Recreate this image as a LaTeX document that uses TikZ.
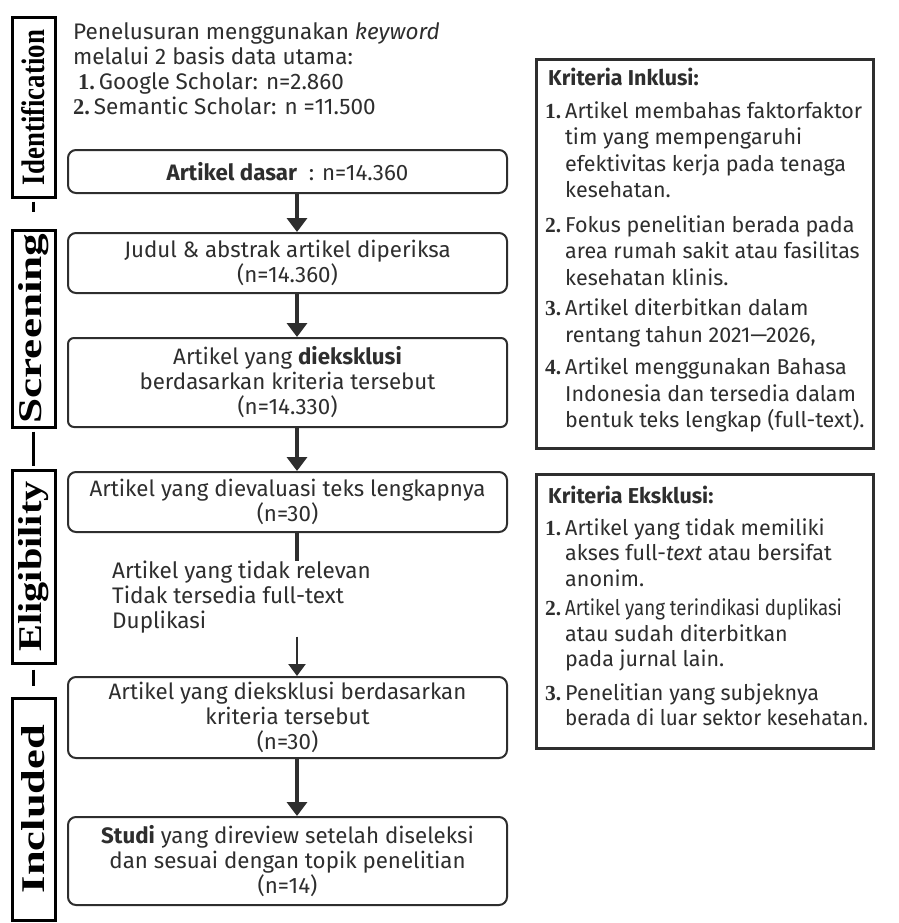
\documentclass[tikz,border=0pt]{standalone}
\usepackage{fontspec}
\usepackage{graphicx}
\setmainfont{Fira Sans}
\newfontfamily\numfont{Liberation Serif}
\usetikzlibrary{arrows.meta}
\definecolor{ink}{HTML}{2E2E2E}
\newcommand{\nr}[1]{{\numfont\bfseries #1}}
\newcommand{\itm}[1]{\makebox[20pt][l]{\nr{#1}}}
\newcommand{\ind}{\hspace*{20pt}}
\newcommand{\phaselabel}[2]{\rotatebox{90}{\resizebox{#1}{23pt}{\numfont\bfseries #2}}}

\begin{document}
\begin{tikzpicture}[x=1pt,y=-1pt,
  txt/.style={font=\fontsize{22.5}{25}\selectfont, text=ink, inner sep=0pt},
  crittxt/.style={font=\fontsize{21.5}{26.5}\selectfont, text=ink, inner sep=0pt, align=left, anchor=north west},
  flowbox/.style={draw=ink, line width=2pt, rounded corners=8pt, minimum width=439pt, align=center, font=\fontsize{22.3}{25}\selectfont, text=ink, inner sep=0pt},
  phasebox/.style={draw=black, line width=3pt, minimum width=43pt, inner sep=0pt},
  phaseline/.style={draw=black, line width=3pt},
  critbox/.style={draw=ink, line width=3pt, minimum width=337pt, inner sep=0pt, anchor=north west},
  flowarrow/.style={draw=ink, line width=3.5pt, -{Triangle[width=20pt,length=14pt]}},
  thinarrow/.style={draw=ink, line width=2.5pt, -{Triangle[width=17pt,length=12pt]}}]
\useasboundingbox (0,0) rectangle (898,923);
\fill[white] (0,0) rectangle (898,923);

\node[phasebox, minimum height=179pt] (ident) at (33.5,107.5) {\phaselabel{155pt}{Identification}};
\node[phasebox, minimum height=197pt] (screen) at (33.5,328.5) {\phaselabel{190pt}{Screening}};
\node[phasebox, minimum height=193pt] (elig) at (33.5,566.5) {\phaselabel{170pt}{Eligibility}};
\node[phasebox, minimum height=222pt] (incl) at (33.5,809) {\phaselabel{168pt}{Included}};
\draw[phaseline, shorten <=3pt, shorten >=17pt] (ident) -- (screen);
\draw[phaseline, shorten <=3pt, shorten >=3pt] (screen) -- (elig);
\draw[phaseline, shorten <=5pt, shorten >=11pt] (elig) -- (incl);

\node[txt, anchor=north west, align=left] (search) at (73,22) {Penelusuran menggunakan \textit{keyword}\\melalui 2 basis data utama:\\\hspace*{5pt}\nr{1.}\,Google Scholar: n=2.860\\\nr{2.}\,Semantic Scholar: n =11.500};

\coordinate (ax) at (297,0);
\node[flowbox, minimum height=43pt] (dasar) at (287.5,171.5) {\textbf{Artikel dasar}\ \ : n=14.360};
\node[flowbox, minimum height=60pt] (judul) at (287.5,263) {Judul \& abstrak artikel diperiksa\\(n=14.360)};
\node[flowbox, minimum height=89pt, rounded corners=6pt] (eksa) at (287.5,382.5) {Artikel yang \textbf{dieksklusi}\\berdasarkan kriteria tersebut\\(n=14.330)};
\node[flowbox, minimum height=60pt] (eval) at (287.5,502) {Artikel yang dievaluasi teks lengkapnya\\(n=30)};
\node[txt, anchor=north west, align=left] (drop) at (112,561) {Artikel yang tidak relevan\\Tidak tersedia full-text\\Duplikasi};
\node[flowbox, minimum height=81pt] (eksb) at (287.5,717.5) {Artikel yang dieksklusi berdasarkan\\kriteria tersebut\\(n=30)};
\node[flowbox, minimum height=88pt] (studi) at (287.5,861) {\textbf{Studi} yang direview setelah diseleksi\\dan sesuai dengan topik penelitian\\(n=14)};
\draw[flowarrow] (dasar.south -| ax) -- (judul.north -| ax);
\draw[flowarrow] (judul.south -| ax) -- (eksa.north -| ax);
\draw[flowarrow] (eksa.south -| ax) -- (eval.north -| ax);
\draw[draw=ink, line width=4pt] (eval.south -| ax) -- (drop.north -| ax);
\draw[thinarrow, shorten <=3pt] (drop.south -| ax) -- (eksb.north -| ax);
\draw[flowarrow] (eksb.south -| ax) -- (studi.north -| ax);

\node[critbox, minimum height=389pt] (inkbox) at (535,58) {};
\node[crittxt] (inktext) at (545,68) {\hspace*{3pt}\textbf{Kriteria Inklusi:}\\[6pt]
\itm{1.}Artikel membahas faktorfaktor\\\ind tim yang mempengaruhi\\\ind efektivitas kerja pada tenaga\\\ind kesehatan.\\[8pt]
\itm{2.}Fokus penelitian berada pada\\\ind area rumah sakit atau fasilitas\\\ind kesehatan klinis.\\[4pt]
\itm{3.}Artikel diterbitkan dalam\\\ind rentang tahun 2021---2026,\\[6pt]
\itm{4.}Artikel menggunakan Bahasa\\\ind Indonesia dan tersedia dalam\\\ind bentuk teks lengkap (full-text).};

\node[critbox, minimum height=274pt] (eksbox) at (535,473) {};
\node[crittxt, font=\fontsize{21.5}{25.5}\selectfont] (ekstext) at (545,486) {\hspace*{3pt}\textbf{Kriteria Eksklusi:}\\[6pt]
\itm{1.}Artikel yang tidak memiliki\\\ind akses full-\textit{text} atau bersifat\\\ind anonim.\\[4pt]
\itm{2.}\scalebox{0.87}[1]{Artikel yang terindikasi duplikasi}\\\ind atau sudah diterbitkan\\\ind pada jurnal lain.\\[8pt]
\itm{3.}Penelitian yang subjeknya\\\ind \scalebox{0.96}[1]{berada di luar sektor kesehatan.}};
\end{tikzpicture}
\end{document}
